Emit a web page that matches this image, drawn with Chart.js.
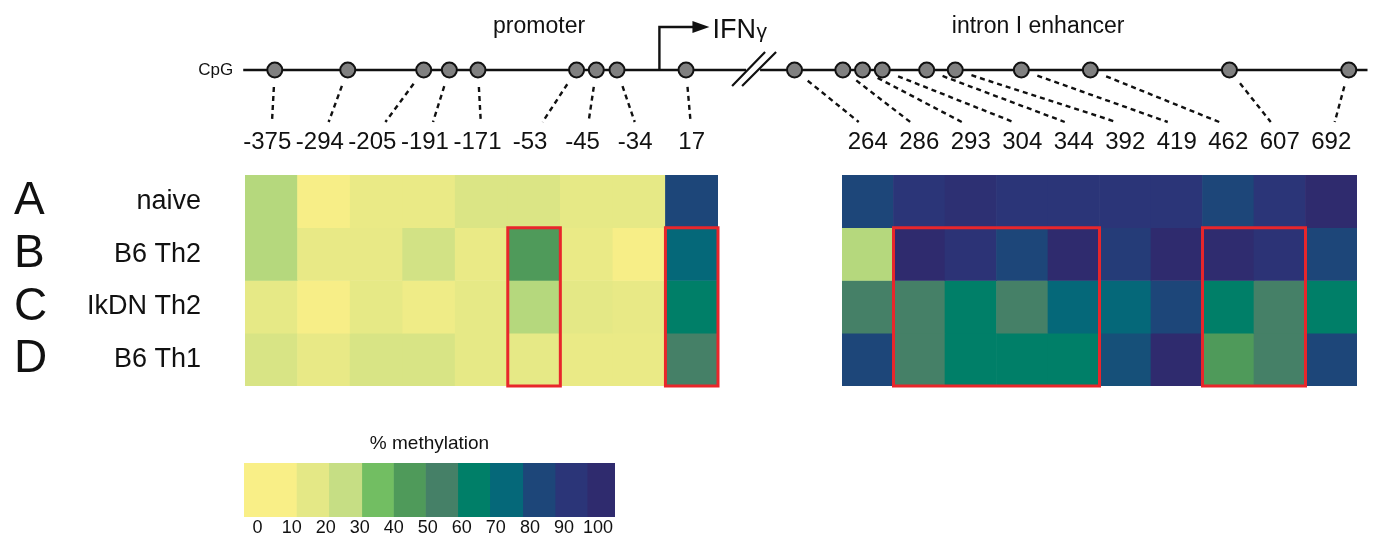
<!DOCTYPE html>
<html>
<head>
<meta charset="utf-8">
<script src="https://cdn.jsdelivr.net/npm/chart.js@4.4.1/dist/chart.umd.min.js"></script>
<style>
  html, body { margin: 0; padding: 0; background: #fff; overflow: hidden; }
  #fig { position: relative; width: 1377px; height: 538px; }
  #fig canvas { position: absolute; left: 0; top: 0; }
</style>
</head>
<body>
<div id="fig">
  <canvas id="mapChart" width="1377" height="538"></canvas>
  <canvas id="promoterChart" width="1377" height="538"></canvas>
  <canvas id="intronChart" width="1377" height="538"></canvas>
  <canvas id="legendChart" width="1377" height="538"></canvas>
</div>
<script>
// ============================================
// IFNg CpG methylation - gene map + heatmaps
// ============================================

const FONT = "'Liberation Sans', Arial, Helvetica, sans-serif";
const INK = '#111';

// CpG positions relative to TSS
const promoterCpG = ['-375', '-294', '-205', '-191', '-171', '-53', '-45', '-34', '17'];
const intronCpG = ['264', '286', '293', '304', '344', '392', '419', '462', '607', '692'];

// schematic spacing of the dots along the drawn track (not to scale)
const promoterTrack = [269, 343, 420, 446, 475, 575, 595, 616, 686];
const intronTrack = [796, 845, 865, 885, 930, 959, 1026, 1096, 1237, 1358];
const trackSpan = [237, 1377];
const trackBreak = 755;
const tssAt = 659;

const regionNames = ['promoter', 'intron I enhancer'];
const regionAt = [537, 1043];

const sampleLetters = ['A', 'B', 'C', 'D'];
const sampleNames = ['naive', 'B6 Th2', 'IkDN Th2', 'B6 Th1'];

// % methylation, promoter CpGs
const promoterNaive   = [22, 1, 7, 7, 13, 13, 9, 9, 80];
const promoterB6Th2   = [22, 8, 8, 16, 7, 40, 7, 1, 70];
const promoterIkDNTh2 = [9, 1, 9, 5, 9, 22, 10, 8, 60];
const promoterB6Th1   = [14, 8, 14, 14, 9, 9, 7, 7, 50];

// % methylation, intron I enhancer CpGs
const intronNaive   = [80, 90, 95, 90, 90, 90, 90, 80, 90, 100];
const intronB6Th2   = [22, 100, 92, 80, 100, 86, 100, 99, 92, 80];
const intronIkDNTh2 = [50, 50, 60, 50, 70, 70, 80, 60, 50, 60];
const intronB6Th1   = [80, 50, 60, 60, 60, 77, 100, 40, 50, 80];

// highlighted blocks: [first col, last col, first row, last row]
const promoterBoxes = [[5, 5, 1, 3], [8, 8, 1, 3]];
const intronBoxes = [[1, 4, 1, 3], [7, 8, 1, 3]];

// colour key
const keyTicks = [0, 10, 20, 30, 40, 50, 60, 70, 80, 90, 100];
const keyEdges = [-4, 11.4, 20.9, 30.6, 39.9, 49.3, 58.8, 68.2, 77.9, 87.4, 96.8, 105];
const keyColors = ['#f9ef87', '#e4e886', '#c6de84', '#72be62', '#4f9a5a', '#458067',
                   '#007f68', '#056879', '#1d4679', '#2b3578', '#2f2b6e'];

// ---- helpers ----
function hexRgb(h) {
  return [1, 3, 5].map(i => parseInt(h.substr(i, 2), 16));
}

function colorFor(v) {
  const t = Math.max(0, Math.min(100, v)) / 10;
  const i = Math.min(9, Math.floor(t));
  const f = t - i;
  const a = hexRgb(keyColors[i]);
  const b = hexRgb(keyColors[i + 1]);
  const c = a.map((x, k) => Math.round(x + (b[k] - x) * f));
  return 'rgb(' + c.join(',') + ')';
}

function text(ctx, s, x, y, size, align, base) {
  ctx.font = size + 'px ' + FONT;
  ctx.fillStyle = INK;
  ctx.textAlign = align || 'center';
  ctx.textBaseline = base || 'alphabetic';
  ctx.fillText(s, x, y);
}

const quiet = {
  responsive: false,
  animation: false,
  events: [],
  plugins: { legend: { display: false }, tooltip: { enabled: false } }
};

// ---- gene map ----
const trackPlugin = {
  id: 'track',
  beforeDatasetsDraw(chart) {
    const { ctx, scales: { x, y } } = chart;
    const y0 = y.getPixelForValue(0);
    const bx = x.getPixelForValue(trackBreak);
    ctx.save();
    ctx.strokeStyle = INK;
    ctx.lineWidth = 2.6;
    ctx.beginPath();
    ctx.moveTo(x.getPixelForValue(trackSpan[0]), y0);
    ctx.lineTo(bx - 8, y0);
    ctx.moveTo(bx + 6, y0);
    ctx.lineTo(x.getPixelForValue(trackSpan[1]), y0);
    ctx.stroke();

    // break mark
    ctx.lineWidth = 2.2;
    ctx.beginPath();
    ctx.moveTo(bx - 22, y0 + 16); ctx.lineTo(bx + 11, y0 - 18);
    ctx.moveTo(bx - 12, y0 + 16); ctx.lineTo(bx + 22, y0 - 18);
    ctx.stroke();

    // transcription start arrow
    const tx = x.getPixelForValue(tssAt);
    ctx.lineWidth = 2.4;
    ctx.beginPath();
    ctx.moveTo(tx, y0);
    ctx.lineTo(tx, y0 - 43);
    ctx.lineTo(tx + 36, y0 - 43);
    ctx.stroke();
    ctx.fillStyle = INK;
    ctx.beginPath();
    ctx.moveTo(tx + 50, y0 - 43);
    ctx.lineTo(tx + 33, y0 - 49);
    ctx.lineTo(tx + 33, y0 - 37);
    ctx.closePath();
    ctx.fill();
    text(ctx, 'IFN', tx + 53, y0 - 32, 27, 'left');
    text(ctx, 'γ', tx + 97, y0 - 32, 21, 'left');

    text(ctx, 'CpG', x.getPixelForValue(trackSpan[0]) - 10, y0, 17, 'right', 'middle');
    regionNames.forEach((n, i) => text(ctx, n, x.getPixelForValue(regionAt[i]), 33, 23));
    ctx.restore();
  }
};

const mapChart = new Chart(document.getElementById('mapChart'), {
  type: 'scatter',
  data: {
    datasets: [{
      data: promoterTrack.concat(intronTrack).map(p => ({ x: p, y: 0 })),
      pointRadius: 7.5,
      pointBackgroundColor: '#808080',
      pointBorderColor: INK,
      pointBorderWidth: 2,
      clip: false
    }]
  },
  options: {
    ...quiet,
    layout: { padding: { left: 0, right: 0, top: 60, bottom: 458 } },
    scales: {
      x: { type: 'linear', min: 0, max: 1377, display: false },
      y: { min: -1, max: 1, display: false }
    }
  },
  plugins: [trackPlugin]
});

// ---- heatmaps ----
function heatPlugin(labels, track, boxes, withRows) {
  return {
    id: 'heatExtras',
    afterDatasetsDraw(chart) {
      const { ctx, scales: { x, y } } = chart;
      const half = (x.getPixelForValue(1) - x.getPixelForValue(0)) / 2;
      ctx.save();

      // highlighted blocks
      ctx.strokeStyle = '#e8262b';
      ctx.lineWidth = 3;
      boxes.forEach(b => {
        const x0 = x.getPixelForValue(b[0]) - half;
        const x1 = x.getPixelForValue(b[1]) + half;
        const y0 = y.getPixelForValue(b[2]);
        const y1 = y.getPixelForValue(b[3] + 1);
        ctx.strokeRect(x0, y0, x1 - x0, y1 - y0);
      });

      // CpG labels and connectors to the gene map
      const mx = mapChart.scales.x;
      const my = mapChart.scales.y.getPixelForValue(0);
      labels.forEach((lab, i) => {
        const cx = x.getPixelForValue(i);
        const lx = lab.charAt(0) === '-' ? cx - 4 : cx;
        text(ctx, lab, lx, 149, 24);
        const dx = mx.getPixelForValue(track[i]);
        const ex = cx + Math.max(-9, Math.min(9, (dx - cx) * 0.2));
        const ey = 122;
        const len = Math.hypot(ex - dx, ey - my);
        const sx = dx + (ex - dx) * 17 / len;
        const sy = my + (ey - my) * 17 / len;
        ctx.strokeStyle = INK;
        ctx.lineWidth = 2.4;
        ctx.setLineDash([5, 4]);
        ctx.beginPath();
        ctx.moveTo(sx, sy);
        ctx.lineTo(ex, ey);
        ctx.stroke();
        ctx.setLineDash([]);
      });

      if (withRows) {
        sampleNames.forEach((n, r) => {
          const cy = y.getPixelForValue(r + 0.5);
          text(ctx, sampleLetters[r], 14, cy, 46, 'left', 'middle');
          text(ctx, n, 201, cy, 27, 'right', 'middle');
        });
      }
      ctx.restore();
    }
  };
}

function heatChart(id, labels, rows, padding, track, boxes, withRows) {
  return new Chart(document.getElementById(id), {
    type: 'bar',
    data: {
      labels: labels,
      datasets: rows.map((vals, r) => ({
        data: vals.map(() => [r, r + 1]),
        backgroundColor: vals.map(colorFor),
        borderWidth: 0,
        grouped: false,
        barPercentage: 1,
        categoryPercentage: 1
      }))
    },
    options: {
      ...quiet,
      layout: { padding: padding },
      scales: {
        x: { display: false },
        y: { min: 0, max: 4, reverse: true, display: false }
      }
    },
    plugins: [heatPlugin(labels, track, boxes, withRows)]
  });
}

heatChart('promoterChart', promoterCpG,
  [promoterNaive, promoterB6Th2, promoterIkDNTh2, promoterB6Th1],
  { left: 245, right: 659, top: 175, bottom: 152 }, promoterTrack, promoterBoxes, true);

heatChart('intronChart', intronCpG,
  [intronNaive, intronB6Th2, intronIkDNTh2, intronB6Th1],
  { left: 842, right: 20, top: 175, bottom: 152 }, intronTrack, intronBoxes, false);

// ---- colour key ----
const keyPlugin = {
  id: 'keyText',
  afterDatasetsDraw(chart) {
    const { ctx, chartArea, scales: { x } } = chart;
    ctx.save();
    text(ctx, '% methylation', (chartArea.left + chartArea.right) / 2, chartArea.top - 19, 19, 'center', 'middle');
    keyTicks.forEach(t => text(ctx, String(t), x.getPixelForValue(t), chartArea.bottom + 11, 18, 'center', 'middle'));
    ctx.restore();
  }
};

new Chart(document.getElementById('legendChart'), {
  type: 'bar',
  data: {
    labels: ['% methylation'],
    datasets: keyColors.map((c, i) => ({
      data: [[keyEdges[i], keyEdges[i + 1]]],
      backgroundColor: c,
      borderWidth: 0,
      grouped: false,
      barPercentage: 1,
      categoryPercentage: 1
    }))
  },
  options: {
    ...quiet,
    indexAxis: 'y',
    layout: { padding: { left: 244, right: 762, top: 463, bottom: 21 } },
    scales: {
      x: { type: 'linear', min: keyEdges[0], max: keyEdges[keyEdges.length - 1], display: false },
      y: { display: false }
    }
  },
  plugins: [keyPlugin]
});
</script>
</body>
</html>
